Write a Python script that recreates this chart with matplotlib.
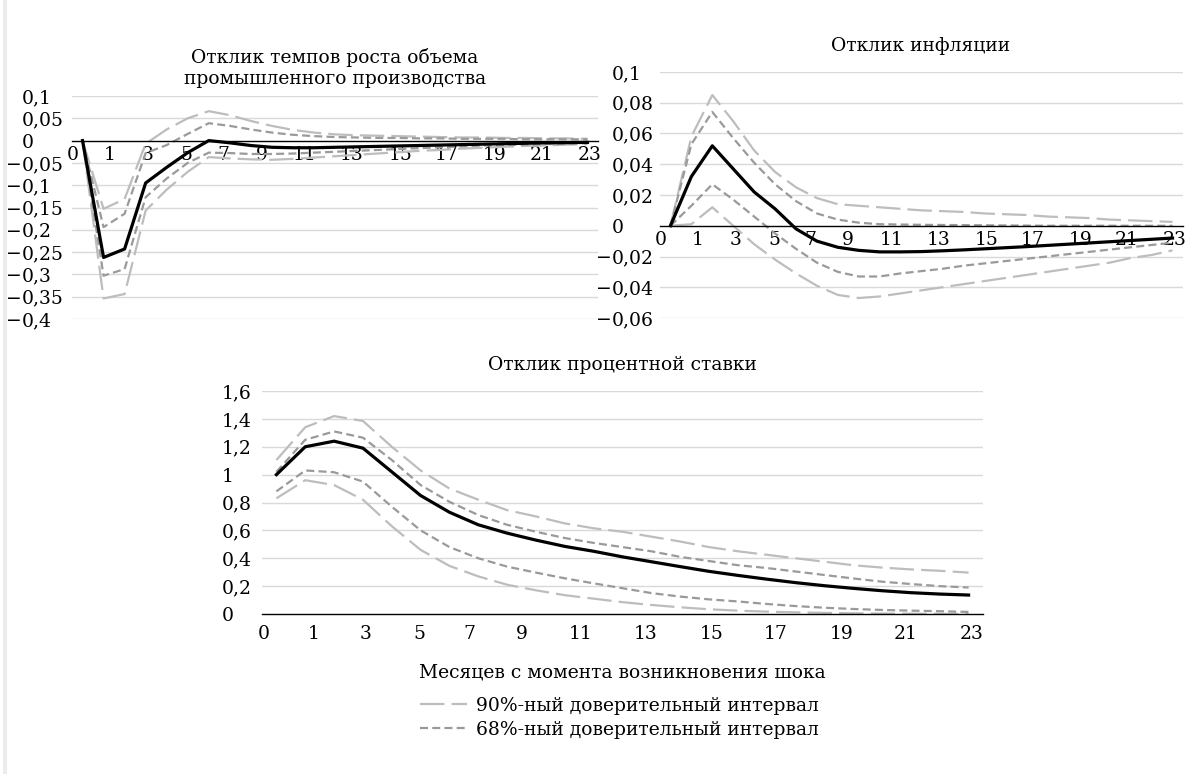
import matplotlib
matplotlib.use("Agg")
import matplotlib.pyplot as plt
from matplotlib.lines import Line2D
from matplotlib import transforms

plt.rcParams['font.family'] = ['DejaVu Serif']
plt.rcParams['font.size'] = 13.5

months = list(range(25))
xtick_pos = [-0.45, 1.3, 3.1, 4.95, 6.7, 8.5, 10.55, 12.8, 15.1, 17.3, 19.6, 21.8, 24.1]
xtick_lab = ['0', '1', '3', '5', '7', '9', '11', '13', '15', '17', '19', '21', '23']

# industrial production growth
ip_main = [0, -0.262, -0.243, -0.095, -0.06, -0.027, 0.0, -0.005, -0.011, -0.015, -0.016, -0.016,
           -0.015, -0.014, -0.013, -0.012, -0.011, -0.01, -0.009, -0.008, -0.007, -0.006, -0.005, -0.0045, -0.004]
ip_up90 = [0, -0.153, -0.131, -0.007, 0.025, 0.05, 0.066, 0.057, 0.044, 0.033, 0.024, 0.018,
           0.014, 0.012, 0.011, 0.01, 0.009, 0.008, 0.007, 0.007, 0.006, 0.006, 0.005, 0.005, 0.004]
ip_up68 = [0, -0.194, -0.164, -0.028, -0.01, 0.015, 0.039, 0.033, 0.025, 0.018, 0.013, 0.01,
           0.008, 0.007, 0.006, 0.006, 0.005, 0.005, 0.004, 0.004, 0.004, 0.003, 0.003, 0.003, 0.003]
ip_lo68 = [0, -0.303, -0.288, -0.127, -0.085, -0.05, -0.027, -0.028, -0.03, -0.03, -0.029, -0.027,
           -0.025, -0.023, -0.021, -0.019, -0.017, -0.015, -0.013, -0.011, -0.01, -0.009, -0.008, -0.007, -0.006]
ip_lo90 = [0, -0.354, -0.344, -0.157, -0.11, -0.07, -0.037, -0.04, -0.042, -0.043, -0.041, -0.038,
           -0.035, -0.032, -0.029, -0.026, -0.023, -0.021, -0.018, -0.016, -0.014, -0.012, -0.011, -0.009, -0.008]

# inflation
pi_main = [0, 0.032, 0.052, 0.037, 0.022, 0.011, -0.002, -0.01, -0.014, -0.016, -0.017, -0.017,
           -0.0168, -0.0163, -0.0157, -0.015, -0.0143, -0.0136, -0.0128, -0.012, -0.0112, -0.0104, -0.0096, -0.0088, -0.008]
pi_up90 = [0, 0.058, 0.085, 0.068, 0.049, 0.035, 0.025, 0.018, 0.014, 0.013, 0.012, 0.011,
           0.01, 0.0095, 0.009, 0.008, 0.0075, 0.007, 0.006, 0.0055, 0.005, 0.004, 0.0035, 0.003, 0.0025]
pi_up68 = [0, 0.053, 0.074, 0.057, 0.041, 0.027, 0.016, 0.008, 0.004, 0.002, 0.001, 0.0008,
           0.0006, 0.0005, 0.0004, 0.0003, 0.0002, 0.0001, 0, 0, 0, 0, 0, 0, 0]
pi_lo68 = [0, 0.013, 0.027, 0.017, 0.006, -0.005, -0.015, -0.024, -0.03, -0.033, -0.033, -0.031,
           -0.0295, -0.028, -0.026, -0.0245, -0.023, -0.0215, -0.02, -0.0185, -0.017, -0.0155, -0.014, -0.0125, -0.011]
pi_lo90 = [0, 0.001, 0.012, 0.0, -0.012, -0.022, -0.031, -0.039, -0.045, -0.047, -0.046, -0.044,
           -0.042, -0.04, -0.038, -0.036, -0.034, -0.032, -0.03, -0.028, -0.026, -0.024, -0.021, -0.019, -0.016]

# interest rate
r_main = [1.0, 1.2, 1.24, 1.19, 1.02, 0.85, 0.73, 0.64, 0.58, 0.53, 0.485, 0.45,
          0.41, 0.375, 0.34, 0.306, 0.277, 0.25, 0.225, 0.203, 0.184, 0.167, 0.153, 0.143, 0.136]
r_up90 = [1.105, 1.34, 1.42, 1.385, 1.2, 1.03, 0.9, 0.82, 0.745, 0.7, 0.65, 0.615,
          0.59, 0.555, 0.52, 0.48, 0.45, 0.425, 0.4, 0.375, 0.35, 0.333, 0.32, 0.31, 0.297]
r_up68 = [1.02, 1.25, 1.31, 1.265, 1.105, 0.925, 0.805, 0.71, 0.64, 0.59, 0.545, 0.51,
          0.48, 0.45, 0.41, 0.38, 0.35, 0.33, 0.305, 0.28, 0.255, 0.232, 0.215, 0.2, 0.19]
r_lo68 = [0.88, 1.03, 1.017, 0.95, 0.77, 0.6, 0.48, 0.4, 0.34, 0.297, 0.256, 0.22,
          0.185, 0.15, 0.125, 0.105, 0.09, 0.072, 0.057, 0.045, 0.036, 0.029, 0.024, 0.02, 0.015]
r_lo90 = [0.83, 0.96, 0.925, 0.82, 0.63, 0.46, 0.345, 0.27, 0.21, 0.17, 0.135, 0.11,
          0.085, 0.065, 0.048, 0.034, 0.024, 0.017, 0.012, 0.008, 0.005, 0.003, 0.002, 0.001, 0.0]

ip_ticks = [0.1, 0.05, 0, -0.05, -0.1, -0.15, -0.2, -0.25, -0.3, -0.35, -0.4]
ip_labels = ['0,1', '0,05', '0', '−0,05', '−0,1', '−0,15', '−0,2', '−0,25', '−0,3', '−0,35', '−0,4']
pi_ticks = [0.1, 0.08, 0.06, 0.04, 0.02, 0, -0.02, -0.04, -0.06]
pi_labels = ['0,1', '0,08', '0,06', '0,04', '0,02', '0', '−0,02', '−0,04', '−0,06']
r_ticks = [1.6, 1.4, 1.2, 1, 0.8, 0.6, 0.4, 0.2, 0]
r_labels = ['1,6', '1,4', '1,2', '1', '0,8', '0,6', '0,4', '0,2', '0']

c90 = '#bdbdbd'
c68 = '#9a9a9a'
style90 = dict(color=c90, lw=1.6, dashes=(11, 3.2))
style68 = dict(color=c68, lw=1.6, dashes=(3.6, 1.9))
style_main = dict(color='black', lw=2.3)

W, H = 1185, 774
fig = plt.figure(figsize=(W / 100, H / 100), dpi=100)


def make_ax(l, r, t, b):
    return fig.add_axes([l / W, 1 - b / H, (r - l) / W, (b - t) / H])


def panel(ax, series, ticks, labels, lab_dx):
    up90, up68, lo68, lo90, main = series
    ax.set_xlim(-0.5, 24.5)
    ax.set_ylim(min(ticks), max(ticks))
    for t in ticks:
        if t != 0:
            ax.axhline(t, color='#d9d9d9', lw=1, zorder=0)
    ax.plot(months, up90, **style90)
    ax.plot(months, lo90, **style90)
    ax.plot(months, up68, **style68)
    ax.plot(months, lo68, **style68)
    ax.plot(months, main, **style_main)
    for s in ['top', 'right', 'left']:
        ax.spines[s].set_visible(False)
    ax.spines['bottom'].set_position(('data', 0))
    ax.spines['bottom'].set_color('black')
    ax.spines['bottom'].set_linewidth(1)
    ax.set_xticks(xtick_pos, xtick_lab)
    ax.tick_params(axis='x', length=0, pad=4)
    ax.set_yticks([])
    tr = transforms.offset_copy(ax.get_yaxis_transform(), fig, x=lab_dx, units='dots')
    for t, s in zip(ticks, labels):
        ax.text(0, t, s.lstrip('−'), transform=tr, ha='left', va='center_baseline')
        if s.startswith('−'):
            ax.text(0, t, '−', transform=tr, ha='right', va='center_baseline')


ax1 = make_ax(72, 598, 96, 319)
panel(ax1, [ip_up90, ip_up68, ip_lo68, ip_lo90, ip_main], ip_ticks, ip_labels, -50)
fig.text(335 / W, 1 - 68 / H, 'Отклик темпов роста объема\nпромышленного производства',
         ha='center', va='center', linespacing=1.15)

ax2 = make_ax(660, 1183, 72, 318)
panel(ax2, [pi_up90, pi_up68, pi_lo68, pi_lo90, pi_main], pi_ticks, pi_labels, -48)
fig.text(921 / W, 1 - 46 / H, 'Отклик инфляции', ha='center', va='center')

ax3 = make_ax(262, 983, 391, 614)
panel(ax3, [r_up90, r_up68, r_lo68, r_lo90, r_main], r_ticks, r_labels, -40)
ax3.tick_params(axis='x', pad=8)
fig.text(622 / W, 1 - 365 / H, 'Отклик процентной ставки', ha='center', va='center')

fig.text(622 / W, 1 - 672 / H, 'Месяцев с момента возникновения шока', ha='center', va='center')

handles = [Line2D([], [], **style90), Line2D([], [], **style68)]
fig.legend(handles, ['90%-ный доверительный интервал', '68%-ный доверительный интервал'],
           loc='upper left', bbox_to_anchor=(420 / W, 1 - 697 / H), frameon=False,
           borderpad=0, borderaxespad=0, handlelength=2.5, handletextpad=0.5, labelspacing=0.3)

fig.add_artist(Line2D([5 / W, 5 / W], [0, 1], color='#ececec', lw=3))

fig.savefig('out.png', dpi=100)
